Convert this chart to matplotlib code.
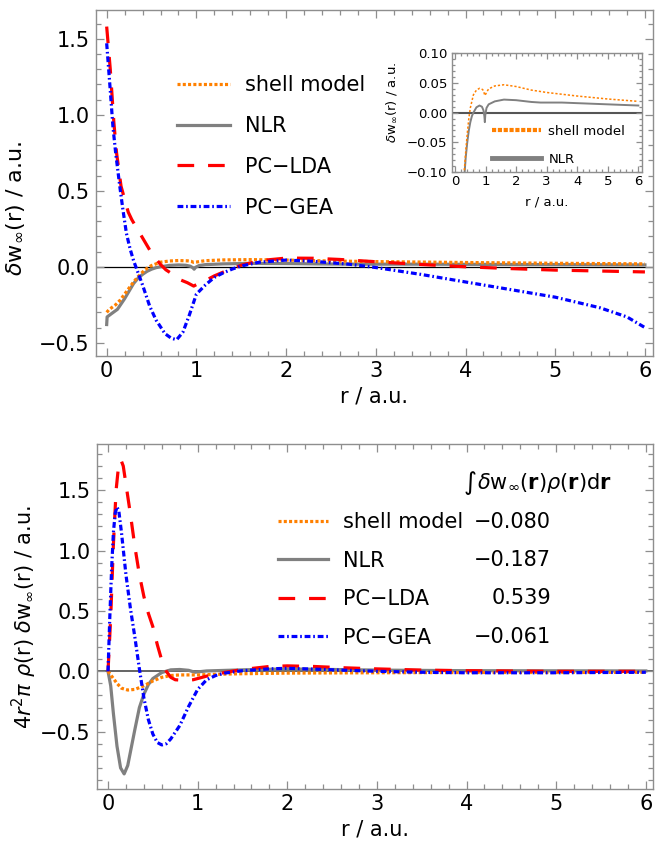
import matplotlib
matplotlib.use("Agg")
import matplotlib.pyplot as plt
from matplotlib.ticker import MultipleLocator, FuncFormatter
from matplotlib.lines import Line2D

plt.rcParams['font.family'] = ['DejaVu Sans']
plt.rcParams['mathtext.fontset'] = 'dejavusans'
plt.rcParams['lines.scale_dashes'] = False
plt.rcParams['axes.unicode_minus'] = True

# ---------------- data: top panel  (delta w_inf(r)) ----------------
r_shell = [0, 0.03, 0.1, 0.15, 0.2, 0.25, 0.3, 0.35, 0.4, 0.45, 0.5, 0.6, 0.7, 0.8, 0.9, 0.94,
           0.97, 1.0, 1.05, 1.1, 1.3, 1.6, 2.0, 2.5, 3.0, 3.5, 4.0, 5.0, 6.0]
w_shell = [-0.30, -0.28, -0.25, -0.22, -0.18, -0.14, -0.10, -0.065, -0.035, -0.01, 0.008, 0.03,
           0.038, 0.041, 0.039, 0.036, 0.029, 0.031, 0.036, 0.04, 0.045, 0.047, 0.044, 0.038,
           0.034, 0.031, 0.028, 0.023, 0.019]

r_nlr = [0, 0.005, 0.05, 0.12, 0.2, 0.25, 0.3, 0.35, 0.4, 0.45, 0.5, 0.55, 0.6, 0.7, 0.8, 0.88,
         0.93, 0.96, 0.975, 0.99, 1.03, 1.1, 1.3, 1.6, 2.0, 2.5, 2.8, 3.5, 4.0, 5.0, 6.0]
w_nlr = [-0.38, -0.33, -0.31, -0.28, -0.21, -0.16, -0.11, -0.075, -0.05, -0.03, -0.016, -0.006,
         0.0, 0.009, 0.012, 0.010, 0.004, -0.006, -0.016, -0.004, 0.008, 0.014, 0.019, 0.022,
         0.021, 0.018, 0.017, 0.017, 0.016, 0.014, 0.012]

r_lda = [0, 0.04, 0.08, 0.11, 0.16, 0.24, 0.28, 0.35, 0.41, 0.5, 0.6, 0.66, 0.75, 0.83, 0.9, 0.97,
         1.04, 1.11, 1.2, 1.3, 1.5, 1.7, 2.0, 2.3, 2.6, 3.0, 3.5, 4.0, 4.5, 5.0, 5.5, 6.0]
w_lda = [1.58, 1.3, 0.95, 0.75, 0.53, 0.36, 0.31, 0.24, 0.18, 0.09, 0.015, -0.02, -0.055, -0.088,
         -0.105, -0.127, -0.105, -0.088, -0.06, -0.035, 0.01, 0.04, 0.057, 0.056, 0.048, 0.033,
         0.015, 0.0, -0.012, -0.022, -0.028, -0.034]

r_gea = [0, 0.035, 0.07, 0.1, 0.146, 0.18, 0.22, 0.26, 0.3, 0.35, 0.4, 0.48, 0.55, 0.65, 0.72,
         0.78, 0.85, 0.92, 1.0, 1.1, 1.2, 1.3, 1.4, 1.5, 1.7, 2.0, 2.3, 2.7, 3.0, 3.5, 4.0, 4.5,
         5.0, 5.5, 5.8, 6.0]
w_gea = [1.47, 1.2, 0.92, 0.75, 0.53, 0.38, 0.22, 0.12, 0.04, -0.04, -0.12, -0.26, -0.35, -0.44,
         -0.47, -0.48, -0.43, -0.32, -0.18, -0.12, -0.07, -0.04, -0.015, 0.005, 0.03, 0.044,
         0.036, 0.017, -0.005, -0.05, -0.10, -0.15, -0.20, -0.27, -0.33, -0.40]

# ---------------- data: bottom panel (4 r^2 pi rho(r) delta w(r)) ----------------
rb_shell = [0, 0.05, 0.1, 0.15, 0.22, 0.3, 0.4, 0.5, 0.6, 0.7, 0.8, 0.9, 1.0, 1.2, 1.5, 2.0,
            3.0, 4.0, 5.0, 6.0]
b_shell = [0, -0.05, -0.10, -0.14, -0.155, -0.15, -0.12, -0.08, -0.05, -0.035, -0.03, -0.03,
           -0.03, -0.025, -0.02, -0.015, -0.012, -0.01, -0.01, -0.008]

rb_nlr = [0, 0.03, 0.06, 0.1, 0.14, 0.18, 0.22, 0.26, 0.3, 0.35, 0.4, 0.45, 0.5, 0.6, 0.7, 0.8,
          0.9, 0.97, 1.0, 1.1, 1.5, 2.0, 2.5, 3.0, 4.0, 6.0]
b_nlr = [0, -0.12, -0.35, -0.62, -0.80, -0.85, -0.78, -0.63, -0.48, -0.30, -0.19, -0.11, -0.06,
         -0.01, 0.012, 0.015, 0.008, -0.008, -0.005, 0.003, 0.012, 0.02, 0.015, 0.01, 0.005, 0.003]

rb_lda = [0, 0.03, 0.06, 0.09, 0.12, 0.145, 0.17, 0.2, 0.25, 0.3, 0.35, 0.4, 0.45, 0.5, 0.55,
          0.6, 0.65, 0.7, 0.75, 0.85, 0.95, 1.0, 1.1, 1.3, 1.5, 1.8, 2.0, 2.3, 2.6, 3.0, 3.5,
          4.0, 5.0, 6.0]
b_lda = [0, 0.45, 1.05, 1.5, 1.72, 1.75, 1.7, 1.55, 1.3, 1.03, 0.8, 0.62, 0.48, 0.37, 0.22,
         0.09, 0.0, -0.05, -0.07, -0.075, -0.07, -0.06, -0.04, -0.01, 0.015, 0.04, 0.045, 0.04,
         0.03, 0.02, 0.01, 0.005, 0.0, 0.0]

rb_gea = [0, 0.02, 0.04, 0.06, 0.08, 0.1, 0.12, 0.15, 0.2, 0.25, 0.3, 0.35, 0.4, 0.45, 0.5,
          0.55, 0.6, 0.65, 0.7, 0.8, 0.9, 1.0, 1.1, 1.2, 1.3, 1.5, 1.8, 2.0, 2.3, 2.6, 3.0, 3.5,
          4.0, 5.0, 6.0]
b_gea = [0, 0.45, 0.85, 1.15, 1.31, 1.36, 1.33, 1.15, 0.8, 0.52, 0.28, 0.02, -0.22, -0.40,
         -0.52, -0.59, -0.61, -0.60, -0.56, -0.45, -0.29, -0.15, -0.07, -0.035, -0.015, 0.005,
         0.02, 0.025, 0.018, 0.01, 0.0, -0.008, -0.012, -0.012, -0.008]

labels = ['shell model', 'NLR', 'PC\u2212LDA', 'PC\u2212GEA']
integrals = ['\u22120.080', '\u22120.187', '0.539', '\u22120.061']

# ---------------- styles ----------------
C_OR, C_GR, C_RD, C_BL = (1.0, 0.5, 0.0), (0.5, 0.5, 0.5), (1.0, 0.0, 0.0), (0.0, 0.0, 1.0)
LW = 2.3
st_shell = dict(color=C_OR, lw=LW, ls=(0, (2.2, 1.6)))
st_nlr = dict(color=C_GR, lw=LW, ls='-')
st_lda = dict(color=C_RD, lw=LW, ls=(0, (12, 10)))
st_gea = dict(color=C_BL, lw=LW, ls=(0, (4.2, 2.0, 1.2, 2.0)))
SPINE = '#8e8e8e'

W, H = 655, 846
fig = plt.figure(figsize=(W / 100, H / 100), dpi=100)


def ax_rect(l, r, t, b):
    return [l / W, 1 - b / H, (r - l) / W, (b - t) / H]


def fmt1(v, pos):
    s = '%.1f' % v
    return s.replace('-', '\u2212') if abs(v) > 1e-9 else '0.0'


def style_axes(ax, fs, maj=6, mnr=3.5):
    for s in ax.spines.values():
        s.set_color(SPINE)
        s.set_linewidth(1.0)
    ax.tick_params(which='both', direction='in', top=True, right=True, color=SPINE,
                   labelsize=fs, width=0.9)
    ax.tick_params(which='major', length=maj)
    ax.tick_params(which='minor', length=mnr)


FS = 15
YLAB = r'$\mathit{\delta}$w$_{\infty}$(r) / a.u.'

# ---------------- top panel ----------------
ax1 = fig.add_axes(ax_rect(96, 653, 10, 356))
ax1.axhline(0, color='black', lw=0.9, zorder=1)
ax1.plot(r_shell, w_shell, **st_shell, label=labels[0], zorder=3)
ax1.plot(r_nlr, w_nlr, **st_nlr, label=labels[1], zorder=2)
ax1.plot(r_lda, w_lda, **st_lda, label=labels[2], zorder=4)
ax1.plot(r_gea, w_gea, **st_gea, label=labels[3], zorder=5)
ax1.set_xlim(-0.119, 6.09)
ax1.set_ylim(-0.587, 1.689)
ax1.xaxis.set_major_locator(MultipleLocator(1))
ax1.xaxis.set_minor_locator(MultipleLocator(0.2))
ax1.yaxis.set_major_locator(MultipleLocator(0.5))
ax1.yaxis.set_minor_locator(MultipleLocator(0.1))
ax1.yaxis.set_major_formatter(FuncFormatter(fmt1))
style_axes(ax1, FS)
ax1.tick_params(axis='x', pad=3.5)
ax1.tick_params(axis='y', pad=4.5)
ax1.set_xlabel('r / a.u.', fontsize=FS, labelpad=4)
ax1.set_ylabel(YLAB, fontsize=16)
ax1.yaxis.set_label_coords((27 - 96) / 557, (356 - 208) / 346)
ax1.legend(loc='upper left', bbox_to_anchor=(177 / W, 1 - 75 / H),
           bbox_transform=fig.transFigure, frameon=False, fontsize=FS,
           handlelength=2.55, handletextpad=0.72, labelspacing=1.0,
           borderpad=0, borderaxespad=0)

# ---------------- inset ----------------
FSI = 9.5
axi = fig.add_axes(ax_rect(451.7, 642.3, 53.3, 172))
axi.axhline(0, color='#555555', lw=1.5, zorder=1)
axi.plot(r_shell, w_shell, color=C_OR, lw=1.1, ls=(0, (1.6, 1.4)), zorder=3)
axi.plot(r_nlr, w_nlr, color=C_GR, lw=1.4, ls='-', zorder=2)
axi.set_xlim(-0.11, 6.13)
axi.set_ylim(-0.1, 0.1)
axi.xaxis.set_major_locator(MultipleLocator(1))
axi.xaxis.set_minor_locator(MultipleLocator(0.2))
axi.yaxis.set_major_locator(MultipleLocator(0.05))
axi.yaxis.set_minor_locator(MultipleLocator(0.01))
axi.yaxis.set_major_formatter(FuncFormatter(
    lambda v, p: ('%.2f' % v).replace('-', '\u2212') if abs(v) > 1e-9 else '0.00'))
style_axes(axi, FSI, maj=4, mnr=2)
axi.tick_params(axis='x', pad=2.5)
axi.tick_params(axis='y', pad=3)
axi.set_xlabel('r / a.u.', fontsize=FSI, labelpad=5)
axi.set_ylabel(YLAB, fontsize=9.5)
axi.yaxis.set_label_coords((399 - 451.7) / 190.6, (172 - 102) / 118.7)
h_in = [Line2D([], [], color=C_OR, lw=3.0, ls=(0, (3.0, 1.2))),
        Line2D([], [], color=C_GR, lw=3.5, ls='-')]
axi.legend(h_in, labels[:2], loc='upper left', bbox_to_anchor=(491.7 / W, 1 - 125 / H),
           bbox_transform=fig.transFigure, frameon=False, fontsize=FSI,
           handlelength=3.7, handletextpad=0.6, labelspacing=1.1,
           borderpad=0, borderaxespad=0)

# ---------------- bottom panel ----------------
ax2 = fig.add_axes(ax_rect(97, 653, 444, 789))
ax2.axhline(0, color='#4a4a4a', lw=1.2, zorder=1)
ax2.plot(rb_shell, b_shell, **st_shell, label=labels[0], zorder=3)
ax2.plot(rb_nlr, b_nlr, **st_nlr, label=labels[1], zorder=2)
ax2.plot(rb_lda, b_lda, **st_lda, label=labels[2], zorder=4)
ax2.plot(rb_gea, b_gea, **st_gea, label=labels[3], zorder=5)
ax2.set_xlim(-0.123, 6.08)
ax2.set_ylim(-0.975, 1.883)
ax2.xaxis.set_major_locator(MultipleLocator(1))
ax2.xaxis.set_minor_locator(MultipleLocator(0.2))
ax2.yaxis.set_major_locator(MultipleLocator(0.5))
ax2.yaxis.set_minor_locator(MultipleLocator(0.1))
ax2.yaxis.set_major_formatter(FuncFormatter(fmt1))
style_axes(ax2, FS)
ax2.tick_params(axis='x', pad=3.5)
ax2.tick_params(axis='y', pad=4.5)
ax2.set_xlabel('r / a.u.', fontsize=FS, labelpad=4)
ax2.set_ylabel(r'4$\mathit{r}^{2}\mathit{\pi}\ \mathit{\rho}$(r) $\mathit{\delta}$w$_{\infty}$(r) / a.u.',
               fontsize=FS)
ax2.yaxis.set_label_coords((39 - 97) / 556, (789 - 617) / 345)
ax2.legend(loc='upper left', bbox_to_anchor=(278 / W, 1 - 512 / H),
           bbox_transform=fig.transFigure, frameon=False, fontsize=FS,
           handlelength=2.4, handletextpad=0.7, labelspacing=0.89,
           borderpad=0, borderaxespad=0)
row_y = [521.7, 560, 598, 636.7]
for val, yy in zip(integrals, row_y):
    ax2.text((551 - 97) / 556, (789 - yy) / 345, val, transform=ax2.transAxes,
             ha='right', va='center', fontsize=FS)
ax2.text((464 - 97) / 556, (789 - 483) / 345, '\u222b', transform=ax2.transAxes,
         ha='left', va='center', fontsize=18)
ax2.text((477 - 97) / 556, (789 - 483) / 345,
         r'$\mathit{\delta}\mathrm{w}_{\infty}(\mathbf{r})\mathit{\rho}(\mathbf{r})\mathrm{d}\mathbf{r}$',
         transform=ax2.transAxes, ha='left', va='center', fontsize=FS)

fig.savefig('out.png', dpi=100)
